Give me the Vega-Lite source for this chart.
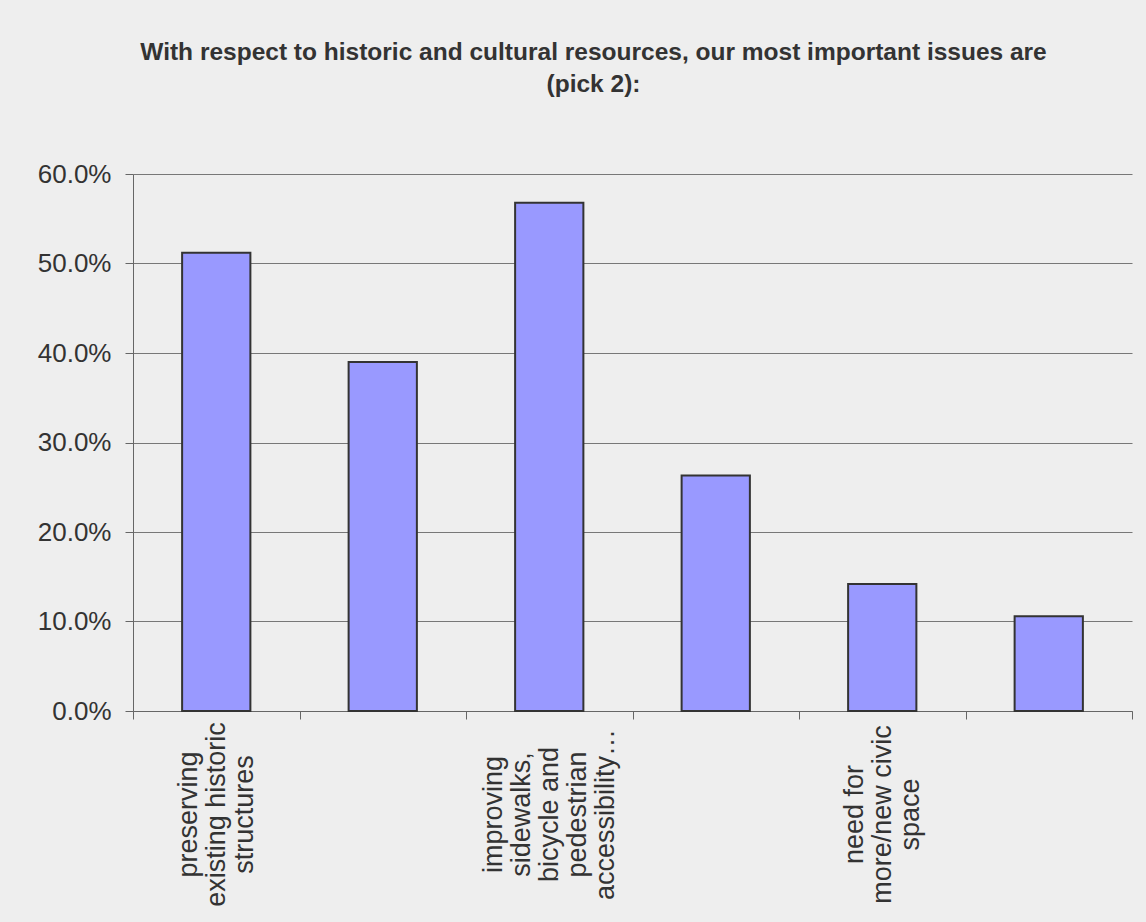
{
  "$schema": "https://vega.github.io/schema/vega-lite/v6.json",
  "width": 999,
  "height": 537,
  "autosize": {"type": "none"},
  "padding": {"left": 133, "top": 174, "right": 14, "bottom": 211},
  "background": "#eeeeee",
  "title": {
    "text": ["With respect to historic and cultural resources, our most important issues are", "(pick 2):"],
    "font": "Liberation Sans",
    "fontSize": 24.5,
    "fontWeight": "bold",
    "color": "#333333",
    "lineHeight": 32,
    "anchor": "middle",
    "dx": -39,
    "offset": 64
  },
  "data": {
    "values": [
      {"issue": "preserving\nexisting historic\nstructures", "share": 0.512},
      {"issue": "(second option, unlabeled)", "share": 0.390},
      {"issue": "improving\nsidewalks,\nbicycle and\npedestrian\naccessibility…", "share": 0.568},
      {"issue": "(fourth option, unlabeled)", "share": 0.263},
      {"issue": "need for\nmore/new civic\nspace", "share": 0.142},
      {"issue": "(sixth option, unlabeled)", "share": 0.106}
    ]
  },
  "config": {
    "view": {"stroke": null},
    "font": "Liberation Sans"
  },
  "mark": {"type": "bar", "fill": "#9999ff", "stroke": "#333333", "strokeWidth": 2, "width": {"band": 0.41}},
  "encoding": {
    "x": {
      "field": "issue",
      "type": "nominal",
      "sort": null,
      "scale": {"paddingInner": 0, "paddingOuter": 0},
      "axis": {
        "title": null,
        "labelExpr": "indexof(datum.label, 'unlabeled') >= 0 ? '' : split(datum.label, '\\n')",
        "labelAngle": -90,
        "labelAlign": "center",
        "labelBaseline": "middle",
        "labelOffset": {"expr": "-(length(split(datum.label, '\\n')) - 1) * 14"},
        "labelPadding": 95,
        "labelFontSize": 27,
        "labelLineHeight": 28,
        "labelColor": "#333333",
        "labelFont": "Liberation Sans",
        "labelOverlap": false,
        "labelLimit": 400,
        "tickBand": "extent",
        "tickSize": 8,
        "tickColor": "#666666",
        "domainColor": "#666666",
        "grid": false
      }
    },
    "y": {
      "field": "share",
      "type": "quantitative",
      "scale": {"domain": [0, 0.6], "nice": false},
      "axis": {
        "title": null,
        "format": ".1%",
        "values": [0, 0.1, 0.2, 0.3, 0.4, 0.5, 0.6],
        "labelFontSize": 26,
        "labelColor": "#333333",
        "labelFont": "Liberation Sans",
        "labelPadding": 14,
        "tickSize": 8,
        "tickColor": "#666666",
        "domainColor": "#666666",
        "grid": true,
        "gridColor": "#777777",
        "gridOpacity": 1
      }
    }
  }
}
